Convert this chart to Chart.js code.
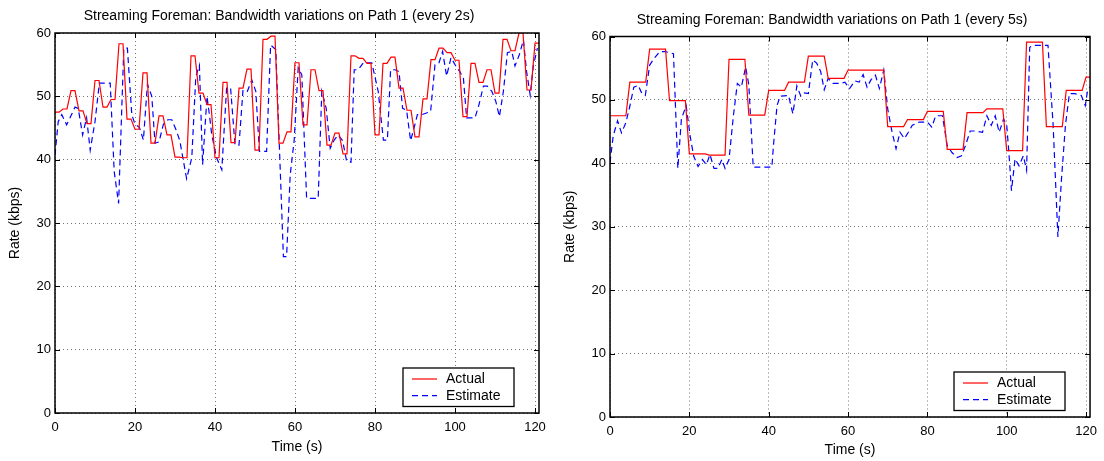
<!DOCTYPE html>
<html>
<head>
<meta charset="utf-8">
<script src="https://cdn.jsdelivr.net/npm/chart.js@4.4.0/dist/chart.umd.min.js"></script>
<style>
  html, body { margin: 0; padding: 0; background: #fff; }
  #wrap { position: relative; width: 1104px; height: 461px; }
  canvas { position: absolute; top: 0; }
  #chart2s { left: 0; }
  #chart5s { left: 556px; }
</style>
</head>
<body>
<div id="wrap">
  <canvas id="chart2s" width="556" height="461"></canvas>
  <canvas id="chart5s" width="548" height="461"></canvas>
</div>
<script>
/* ---------- Datos ---------- */
const timeTicks = [0, 20, 40, 60, 80, 100, 120];
const rateTicks = [0, 10, 20, 30, 40, 50, 60];

// Path 1, cada 2s: tasa real (se mantiene 1s y luego cambia)
const act2Time = [0,2,4,6,8,10,12,14,16,18,20,22,24,26,28,30,32,34,36,38,40,42,44,46,48,50,52,54,56,58,60,
  62,64,66,68,70,72,74,76,78,80,82,84,86,88,90,92,94,96,98,100,102,104,106,108,110,112,114,116,118,120];
const act2Rate = [47.5,48,50.9,47.7,45.7,52.5,48.3,49.5,58.3,46.4,44.8,53.7,42.6,46.9,43.9,40.4,40.3,56.4,50.5,48.7,40.3,
  52.2,42.7,51.3,54.3,41.5,59.0,59.5,42.6,44.4,55.3,45.5,54.2,50.9,42.3,44.2,40.9,56.4,56.0,55.2,43.9,
  55.2,56.2,51.3,47.8,43.6,49.6,55.8,57.6,56.9,55.7,46.8,55.2,52.2,54.2,50.5,59.0,57.2,60.0,51.0,58.4];
const act2Hold = 1;

// Path 1, cada 2s: estimación
const est2Time = [0,0.8,1.7,2.9,3.9,5,5.8,6.9,7.9,8.8,10,11.1,13.8,14.8,15.9,17.2,18.1,19.2,20,21.1,22.1,23.1,24.2,25,26,
  27.1,28.2,29.2,30.2,31.2,32.9,34.2,35.2,36.1,36.9,38,38.6,39.2,40.4,41.7,42.9,43.9,45,46,47,48.1,49.2,50.2,51.1,52.9,
  53.9,55.2,56.2,57.1,57.9,58.8,59.8,60.8,61.7,62.9,65.8,66.7,67.8,68.8,69.8,70.8,71.9,72.9,74,74.8,75.8,77.1,79.2,80.8,
  82.1,83.1,83.9,85,86,86.9,87.9,88.9,89.8,90.6,91.7,93.9,95,96,96.9,97.9,99,100.2,101.2,102.1,102.9,105,106,107.1,108.1,
  109.2,110.2,111.1,112.1,113.1,114.2,115,116.1,117.1,117.9,118.8,119.6,120.6];
const est2Rate = [40.7,46,47.1,45.5,46.8,48.3,48.1,43.9,46.6,41.5,46,52.1,52.1,38.1,33.1,57.6,57.6,47.1,45.6,45.1,43.1,51.9,50,42.6,42.8,
  45.6,46.3,46.3,44.8,43,37,40.3,53.1,54.9,39.2,50,47.1,43.9,40.3,38.4,51.3,51.3,42.3,42.3,51,50.8,52.6,50.8,41.3,41.3,
  58.1,57.4,40.3,24.7,24.7,37.6,43.1,54.5,53.4,33.9,33.9,50.8,48.1,41.8,43.1,43.9,43,39.8,39.6,54.2,54.2,55.3,55.3,50.8,
  43.1,43.1,54.2,54.2,53.9,48.1,47.8,43,45.1,47.1,47.1,47.6,55,55.3,57.1,53.2,56.1,54.8,53.9,52.9,46.6,46.6,48.7,51.6,51.6,
  50.8,49.2,46.8,50.8,56.9,57.1,54.8,56.6,58.9,53.9,50.2,54.9,57.6];

// Path 1, cada 5s: tasa real (se mantiene 4s y luego cambia)
const act5Time = [0,5,10,15,20,25,30,35,40,45,50,55,60,65,70,75,80,85,90,95,100,105,110,115,120];
const act5Rate = [47.5,52.8,58.0,49.9,41.5,41.3,56.4,47.6,51.5,52.8,56.9,53.4,54.7,54.7,45.8,46.9,48.2,42.2,48.0,48.6,42.0,59.1,45.8,51.5,53.6];
const act5Hold = 4;

// Path 1, cada 5s: estimación
const est5Time = [0,0.8,1.9,2.9,4,5,6,7.1,7.9,8.9,10,11.2,12.5,14,16,17.1,18,19.2,20.2,21.1,22.2,23.3,24.3,25.2,26.2,27.2,28.2,29,30,
  31.1,32.1,33.1,34.2,35,36.1,40.8,41.2,42.1,42.9,45,46.1,47.1,48.1,49,50,51.1,52.1,53.1,54,55,56.2,58.1,59.2,60.4,61.7,62.8,
  63.8,64.8,65.8,66.9,67.9,69,70,71.1,72.1,73.1,74.2,75.2,76.2,77.9,80,81.1,82.1,83.8,85,86.2,87.5,88.6,89.6,90.8,92.1,93.9,
  95,96.1,97.1,98.1,99.2,100,100.6,101.2,102.1,103.1,104.2,105,105.8,106.7,110.4,111.7,112.9,113.8,114.8,115.8,117.1,118.8,
  119.8,120.4,121];
const est5Rate = [40.1,44.3,46.7,44.8,46.4,49,52,52.3,51.2,50.7,55.5,56.6,57.6,57.6,57.3,39.2,47,49.1,44.3,41.1,39.5,40.6,39.8,41.4,39.2,39.2,40.6,39.2,40.6,
  47.5,52.6,52,55.2,52.3,39.4,39.4,42.8,49.1,50.6,50.7,47.8,52.2,50.6,51.1,51,56.3,55.8,54.5,51.6,53.4,52.6,52.6,52.8,51.8,53,52.8,
  54,52,53.2,53.9,51.8,54.7,48.6,44.9,42.3,44.9,43.9,44.9,46,46.5,46.5,45.7,47.5,47.5,42.8,41.7,40.9,41.2,42.8,45.1,45.1,44.9,
  47.5,46,47.5,44.9,47,46,41.2,35.7,40.7,39.6,41.2,38.9,58.3,58.6,58.6,46,28.4,37.5,46,51,51,50.7,
  49.1,51.6,52];

/* ---------- Utilidades ---------- */
const FONT = '"Liberation Sans", Arial, Helvetica, sans-serif';

function heldSteps(times, rates, hold) {
  const pts = [];
  times.forEach((t, i) => { pts.push({ x: t, y: rates[i] }, { x: t + hold, y: rates[i] }); });
  return pts;
}
function pairs(times, rates) {
  return times.map((t, i) => ({ x: t, y: rates[i] }));
}

/* ---------- Plugin estilo MATLAB: caja, ticks internos, título, leyenda ---------- */
const matlabAxes = {
  id: 'matlabAxes',
  afterDraw(chart, args, opts) {
    const { ctx, chartArea: a, scales } = chart;
    ctx.save();
    // ticks hacia adentro
    ctx.strokeStyle = '#000';
    ctx.lineWidth = 1;
    const tl = 5;
    timeTicks.forEach(v => {
      const x = Math.round(scales.x.getPixelForValue(v)) + 0.5;
      ctx.beginPath();
      ctx.moveTo(x, a.bottom); ctx.lineTo(x, a.bottom - tl);
      ctx.moveTo(x, a.top); ctx.lineTo(x, a.top + tl);
      ctx.stroke();
    });
    rateTicks.forEach(v => {
      const y = Math.round(scales.y.getPixelForValue(v)) + 0.5;
      ctx.beginPath();
      ctx.moveTo(a.left, y); ctx.lineTo(a.left + tl, y);
      ctx.moveTo(a.right, y); ctx.lineTo(a.right - tl, y);
      ctx.stroke();
    });
    // caja
    ctx.lineWidth = 1.5;
    ctx.strokeRect(a.left, a.top, a.right - a.left, a.bottom - a.top);

    // título
    ctx.fillStyle = '#000';
    ctx.font = '14px ' + FONT;
    ctx.textAlign = 'center';
    ctx.textBaseline = 'middle';
    ctx.fillText(opts.title, (a.left + a.right) / 2 - 18, a.top - 16.5);

    // leyenda
    const w = 111, h = 38.5;
    const bx = Math.round(a.right - 25 - w), by = Math.round(a.bottom - 7 - h);
    ctx.fillStyle = '#fff';
    ctx.fillRect(bx, by, w, h);
    ctx.strokeStyle = '#000';
    ctx.lineWidth = 1.3;
    ctx.strokeRect(bx, by, w, h);
    chart.data.datasets.forEach((ds, i) => {
      const y = by + 11 + i * 16.7;
      ctx.strokeStyle = ds.borderColor;
      ctx.lineWidth = ds.borderWidth;
      ctx.setLineDash(ds.borderDash || []);
      ctx.beginPath();
      ctx.moveTo(bx + 9, y); ctx.lineTo(bx + 34, y);
      ctx.stroke();
      ctx.setLineDash([]);
      ctx.fillStyle = '#000';
      ctx.font = '14px ' + FONT;
      ctx.textAlign = 'left';
      ctx.fillText(ds.label, bx + 43, y + 0.5);
    });
    ctx.restore();
  }
};

function buildChart(canvasId, title, actual, estimate, box) {
  const canvas = document.getElementById(canvasId);
  const W = canvas.width, H = canvas.height;
  return new Chart(canvas, {
    type: 'line',
    data: {
      datasets: [
        { label: 'Actual', data: actual, borderColor: '#ff0000', borderWidth: 1.2, pointRadius: 0, tension: 0 },
        { label: 'Estimate', data: estimate, borderColor: '#0000ff', borderWidth: 1.2, borderDash: [6, 4], pointRadius: 0, tension: 0 }
      ]
    },
    options: {
      responsive: false,
      animation: false,
      devicePixelRatio: 1,
      events: [],
      layout: { padding: { left: 0, top: box.top, right: W - box.right, bottom: 0 } },
      plugins: {
        legend: { display: false },
        tooltip: { enabled: false },
        matlabAxes: { title }
      },
      scales: {
        x: {
          type: 'linear', min: 0, max: 121,
          afterBuildTicks: s => { s.ticks = timeTicks.map(v => ({ value: v })); },
          afterFit: s => { s.height = H - box.bottom; },
          grid: { color: 'rgba(0,0,0,0.55)', drawTicks: false },
          border: { display: false, dash: [1, 3] },
          ticks: { padding: box.xTickPad, color: '#000', font: { family: FONT, size: 13 }, maxRotation: 0 },
          title: { display: true, text: 'Time (s)', color: '#000', font: { family: FONT, size: 14 }, padding: { top: 0, bottom: box.xTitlePad } }
        },
        y: {
          type: 'linear', min: 0, max: 60,
          afterBuildTicks: s => { s.ticks = rateTicks.map(v => ({ value: v })); },
          afterFit: s => { s.width = box.left; },
          grid: { color: 'rgba(0,0,0,0.55)', drawTicks: false },
          border: { display: false, dash: [1, 3] },
          ticks: { padding: 4, color: '#000', font: { family: FONT, size: 13 } },
          title: { display: true, text: 'Rate (kbps)', color: '#000', font: { family: FONT, size: 14 }, padding: { top: box.yTitlePad, bottom: 0 } }
        }
      }
    },
    plugins: [matlabAxes]
  });
}

/* ---------- Init ---------- */
buildChart('chart2s', 'Streaming Foreman: Bandwidth variations on Path 1 (every 2s)',
  heldSteps(act2Time, act2Rate, act2Hold), pairs(est2Time, est2Rate),
  { left: 55, right: 539, top: 33, bottom: 413, xTickPad: 7, xTitlePad: 5.6, yTitlePad: 6.6 });

buildChart('chart5s', 'Streaming Foreman: Bandwidth variations on Path 1 (every 5s)',
  heldSteps(act5Time, act5Rate, act5Hold), pairs(est5Time, est5Rate),
  { left: 54, right: 538, top: 36.5, bottom: 417, xTickPad: 7, xTitlePad: 2.6, yTitlePad: 5.6 });
</script>
</body>
</html>
